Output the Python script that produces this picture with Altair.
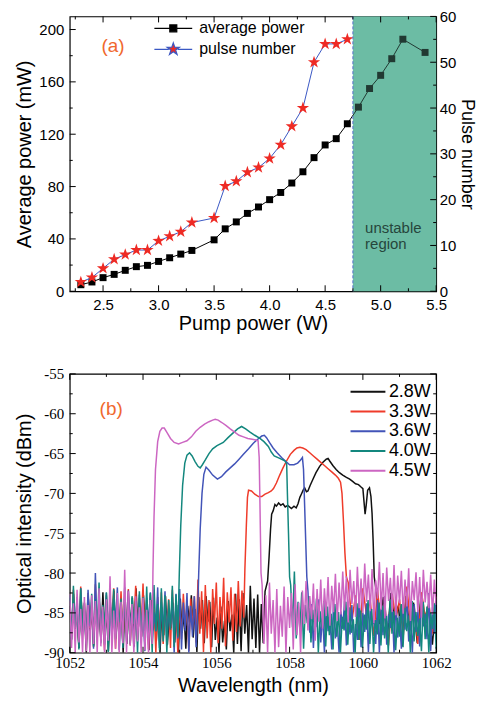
import altair as alt
import numpy as np
import pandas as pd

SANS = "Liberation Sans"
SERIF = "Liberation Serif"

# ================= Panel (a): output vs pump power =================
avg_pump = [2.3, 2.4, 2.5, 2.6, 2.7, 2.8, 2.9, 3.0, 3.1, 3.2, 3.3, 3.5, 3.6, 3.7, 3.8,
            3.9, 4.0, 4.1, 4.2, 4.3, 4.4, 4.5, 4.6, 4.7, 4.8, 4.9, 5.0, 5.1, 5.2, 5.4]
avg_power = [5.0, 7.1, 10.4, 12.9, 16.0, 18.8, 19.8, 22.8, 25.6, 28.4, 31.2, 39.3, 47.7, 53.0, 59.5,
             64.4, 70.0, 75.5, 82.7, 91.3, 102.1, 111.8, 116.6, 128.0, 140.7, 154.9, 165.0, 177.7, 192.6, 182.5]
pulse_pump = [2.3, 2.4, 2.5, 2.6, 2.7, 2.8, 2.9, 3.0, 3.1, 3.2, 3.3, 3.5,
              3.6, 3.7, 3.8, 3.9, 4.0, 4.1, 4.2, 4.3, 4.4, 4.5, 4.6, 4.7]
pulse_number = [2, 3, 5, 7, 8, 9, 9, 11, 12, 13, 15, 16,
                23, 24, 26, 27, 29, 32, 36, 40, 50, 54, 54, 55]
a_names = ["average power", "pulse number"]
xa_major = [2.5, 3.0, 3.5, 4.0, 4.5, 5.0, 5.5]
xa_minor = [2.25, 2.75, 3.25, 3.75, 4.25, 4.75, 5.25]
yl_major = [0, 40, 80, 120, 160, 200]
yl_minor = [20, 60, 100, 140, 180]
yr_major = [0, 10, 20, 30, 40, 50, 60]
yr_minor = [5, 15, 25, 35, 45, 55]
unstable_from, unstable_to = 4.75, 5.5
label_a_pos = [2.59, 187.5]
region_text = ["unstable", "region"]
region_text_x = [4.86, 4.86]
region_text_y = [48.7, 35.8]

# ================= Panel (b): optical spectra =================
series_names = ["2.8W", "3.3W", "3.6W", "4.0W", "4.5W"]
series_colors = ["#111111", "#ef3b2a", "#4254b8", "#13877e", "#cc66c2"]

# 2.8 W
bk_noise_a = [-84.1, -88.3, -82.6, -87.0, -85.2, -89.4, -83.0, -86.5, -84.7, -90.0,
              -82.9, -87.7, -84.4, -89.1, -83.3, -86.0, -85.5, -88.6, -82.4, -87.9,
              -84.8, -89.8, -83.6, -86.8, -82.2, -88.2, -85.0, -87.1, -83.9, -90.0,
              -82.7, -88.9, -84.2, -86.3, -83.1, -89.2, -81.9, -87.4, -84.6, -88.0,
              -82.8, -86.6, -84.9, -89.7, -83.4, -87.2, -85.1, -88.5, -83.8, -90.0,
              -84.3, -87.8, -82.9, -89.0, -85.4, -86.9, -83.7, -88.7, -84.0, -90.0,
              -83.2, -87.5, -85.0, -89.5, -84.1, -86.2, -82.8, -88.1, -84.5, -89.9,
              -83.0, -87.0, -83.4, -88.8, -82.9, -86.1, -83.6, -89.3, -83.1, -88.4,
              -85.6, -90.0, -84.2, -88.7, -86.0, -89.6, -83.5, -87.3, -85.2, -90.0,
              -82.6, -88.9, -83.3, -89.8, -82.5, -87.6, -84.0, -90.0, -81.6, -88.3,
              -83.2, -89.4, -82.7, -90.0, -83.9, -88.8, -82.3]
bk_noise_a_range = [1052.0, 1057.33]
bk_band = [[1057.40, -81.0], [1057.44, -78.0], [1057.48, -74.5], [1057.51, -72.6], [1057.55, -72.2],
           [1057.60, -71.4], [1057.64, -71.6], [1057.70, -71.2], [1057.76, -71.5], [1057.82, -71.3],
           [1057.88, -71.7], [1057.95, -71.5], [1058.05, -71.9], [1058.12, -71.6], [1058.18, -71.8],
           [1058.23, -71.3], [1058.28, -70.5], [1058.32, -70.1], [1058.37, -69.6], [1058.41, -69.3],
           [1058.46, -69.8], [1058.50, -69.7], [1058.56, -69.0], [1058.64, -68.2], [1058.72, -67.4],
           [1058.82, -66.6], [1058.91, -66.1], [1059.00, -65.7], [1059.05, -65.6], [1059.09, -65.9],
           [1059.18, -66.5], [1059.27, -67.0], [1059.36, -67.4], [1059.45, -67.7], [1059.55, -68.0],
           [1059.64, -68.2], [1059.72, -68.5], [1059.80, -68.8], [1059.88, -68.9], [1059.95, -69.2],
           [1060.00, -69.4], [1060.03, -71.0], [1060.06, -72.6], [1060.09, -71.5], [1060.13, -69.6],
           [1060.18, -69.3], [1060.22, -70.4], [1060.25, -72.5], [1060.28, -76.0], [1060.31, -80.5]]
bk_noise_b = [-81.8, -86.4, -83.0, -88.5, -82.5, -85.9, -84.1, -89.2, -82.9, -87.0,
              -83.7, -88.8, -82.6, -86.3, -84.4, -89.0, -83.3]
bk_noise_b_range = [1060.35, 1062.0]

# 3.3 W
rd_noise_a = [-83.5, -87.9, -82.1, -86.4, -84.6, -89.0, -81.7, -87.3, -83.8, -88.6,
              -82.5, -86.9, -84.0, -89.3, -81.4, -87.8, -83.2, -86.1, -84.9, -89.7,
              -82.8, -88.1, -83.9, -86.7, -81.9, -89.5, -84.3, -87.2, -82.3, -88.8,
              -83.6, -87.5, -82.0, -89.1, -84.7, -86.3, -81.6, -88.4, -83.1, -87.0,
              -81.3, -88.2, -83.4, -89.6, -82.7, -86.8, -84.2, -90.0, -83.0, -87.7,
              -82.4, -88.9, -84.5, -86.6, -83.3, -89.4, -82.1, -87.4, -84.8, -90.0,
              -83.7, -88.3, -82.6, -86.9, -84.0, -89.8, -83.2, -87.1, -82.9, -88.7,
              -80.8, -87.6, -82.3, -89.9, -81.5, -88.2, -83.4, -90.0, -82.0, -86.4,
              -81.2, -88.8, -83.0, -87.0, -80.6, -89.2, -82.4, -86.2, -81.8, -88.5,
              -82.6, -87.4, -81.0, -86.7, -82.2, -85.6]
rd_noise_a_range = [1052.0, 1056.75]
rd_band = [[1056.78, -79.5], [1056.82, -74.0], [1056.85, -70.5], [1056.88, -69.6], [1056.96, -69.7],
           [1057.05, -70.1], [1057.15, -70.4], [1057.24, -70.4], [1057.33, -70.1], [1057.42, -69.9],
           [1057.50, -69.7], [1057.56, -69.4], [1057.64, -68.7], [1057.73, -67.7], [1057.82, -66.8],
           [1057.92, -65.9], [1058.02, -65.1], [1058.12, -64.6], [1058.20, -64.3], [1058.28, -64.2],
           [1058.36, -64.3], [1058.45, -64.5], [1058.55, -64.9], [1058.65, -65.3], [1058.75, -65.7],
           [1058.85, -66.1], [1058.95, -66.5], [1059.05, -66.9], [1059.15, -67.3], [1059.25, -67.7],
           [1059.33, -68.1], [1059.39, -68.6], [1059.43, -70.0], [1059.47, -73.5], [1059.51, -77.5],
           [1059.55, -80.5]]
rd_noise_b = [-81.2, -86.0, -82.8, -88.4, -81.9, -85.3, -83.5, -87.9, -82.1, -86.7,
              -84.0, -89.1, -82.6, -85.8, -83.3, -88.0, -81.7, -86.5, -84.2, -88.9,
              -82.4, -85.5, -83.8, -87.6, -82.9]
rd_noise_b_range = [1059.6, 1062.0]

# 3.6 W
bl_noise_a = [-82.8, -88.0, -84.3, -86.6, -83.0, -89.2, -81.9, -87.4, -84.8, -88.9,
              -82.1, -86.7, -83.6, -89.5, -80.0, -87.8, -83.4, -86.0, -84.6, -89.0,
              -82.5, -87.6, -84.1, -88.3, -83.2, -86.4, -81.8, -89.7, -84.4, -87.1,
              -83.0, -88.6, -82.2, -86.9, -84.7, -89.3, -83.5, -87.0, -82.7, -88.1,
              -84.2, -89.8, -83.1, -86.5, -82.4, -88.7, -84.9, -87.3, -81.8, -89.4,
              -83.6, -87.9, -82.3, -89.1, -84.5, -86.8, -83.0, -90.0, -82.6, -88.2,
              -82.0, -89.6, -83.7, -87.2, -82.5, -90.0, -84.1, -88.0, -82.9, -89.3, -83.4]
bl_noise_a_range = [1052.0, 1055.5]
bl_band = [[1055.52, -80.0], [1055.56, -74.5], [1055.61, -70.0], [1055.66, -67.6], [1055.72, -66.7],
           [1055.80, -67.1], [1055.90, -67.7], [1056.03, -68.2], [1056.14, -67.9], [1056.26, -67.3],
           [1056.38, -66.8], [1056.50, -66.3], [1056.62, -65.7], [1056.74, -65.1], [1056.88, -64.4],
           [1057.01, -63.7], [1057.13, -63.2], [1057.24, -62.8], [1057.31, -62.7], [1057.37, -63.0],
           [1057.45, -63.6], [1057.55, -64.3], [1057.66, -64.9], [1057.78, -65.5], [1057.90, -66.0],
           [1058.00, -66.4], [1058.12, -66.4], [1058.22, -66.2], [1058.30, -65.8], [1058.35, -65.5],
           [1058.38, -67.0], [1058.41, -71.5], [1058.44, -76.0], [1058.47, -80.5]]
bl_noise_b = [-82.2, -87.5, -83.9, -89.4, -84.6, -86.8, -83.3, -88.7, -85.0, -90.0,
              -84.2, -87.3, -85.6, -89.6, -83.7, -88.2, -86.1, -90.0, -84.8, -87.0,
              -83.5, -89.1, -85.3, -87.7, -84.0, -90.0, -86.4, -88.4, -83.1, -89.3,
              -85.0, -87.4, -83.8, -89.9, -84.7, -86.5, -85.9, -88.9, -83.4, -90.0,
              -84.5, -87.8, -82.9, -89.0, -85.2, -86.9, -84.1, -90.0, -83.6, -88.1,
              -85.4, -89.5, -84.0, -87.1, -82.7, -88.6, -85.7, -90.0, -83.9, -87.4,
              -84.6, -89.2, -83.2, -86.7, -85.1, -88.3, -82.5, -89.8, -84.3, -87.6, -83.0]
bl_noise_b_range = [1058.5, 1062.0]

# 4.0 W
tl_noise_a = [-83.1, -88.4, -81.6, -86.9, -84.4, -89.6, -81.9, -87.2, -83.7, -88.0,
              -84.9, -86.3, -82.6, -89.2, -83.3, -87.6, -81.2, -88.8, -84.0, -86.6,
              -82.4, -89.9, -83.8, -87.0, -82.0, -88.3, -84.6, -86.2, -83.2, -89.4,
              -81.8, -87.5, -84.2, -88.9, -82.9, -86.4, -83.5, -90.0, -82.3, -87.8,
              -83.0, -89.1, -81.7, -88.2, -82.5, -90.0, -81.5, -87.3, -83.9, -89.7,
              -81.9, -88.6, -82.8, -90.0, -83.4, -87.1, -81.6, -89.3, -82.7, -88.0]
tl_noise_a_range = [1052.0, 1054.95]
tl_band = [[1054.99, -80.0], [1055.03, -74.0], [1055.08, -69.0], [1055.14, -66.2], [1055.20, -65.2],
           [1055.27, -64.9], [1055.34, -65.3], [1055.42, -66.0], [1055.50, -66.6], [1055.56, -66.8],
           [1055.62, -66.4], [1055.70, -65.8], [1055.80, -65.0], [1055.90, -64.4], [1056.02, -64.0],
           [1056.19, -63.6], [1056.32, -63.0], [1056.46, -62.4], [1056.58, -61.9], [1056.69, -61.6],
           [1056.80, -61.9], [1056.92, -62.3], [1057.05, -62.7], [1057.19, -63.1], [1057.30, -63.5],
           [1057.42, -64.1], [1057.50, -64.8], [1057.58, -65.3], [1057.73, -65.6], [1057.87, -65.9],
           [1057.92, -66.3], [1057.94, -70.0], [1057.97, -75.0], [1058.00, -80.5]]
tl_noise_b = [-81.5, -86.8, -79.8, -88.2, -83.6, -87.1, -82.4, -89.5, -84.0, -86.3,
              -82.9, -88.7, -84.6, -87.4, -83.2, -90.0, -84.8, -86.9, -83.5, -89.2,
              -84.2, -87.8, -85.1, -89.6, -83.9, -88.0, -84.9, -90.0, -85.5, -87.2,
              -83.6, -89.0, -84.3, -87.5, -85.8, -90.0, -83.8, -88.4, -84.7, -89.4,
              -85.2, -87.1, -83.4, -88.9, -84.5, -90.0, -85.9, -87.7, -83.7, -89.1,
              -84.1, -88.2, -85.4, -90.0, -83.3, -87.6, -84.8, -89.7, -85.6, -88.0,
              -83.9, -89.3, -84.4, -87.3, -85.3, -90.0, -83.5, -88.6, -84.9, -87.9,
              -85.7, -89.8, -83.6, -88.3, -84.2, -90.0, -85.0, -87.0, -83.8, -89.5]
tl_noise_b_range = [1058.03, 1062.0]

# 4.5 W
pk_noise_a = [-82.6, -89.4, -83.8, -90.0, -82.1, -88.7, -84.5, -90.0, -83.0, -89.8,
              -84.0, -90.0, -82.8, -88.9, -83.5, -90.0, -81.9, -89.2, -84.2, -90.0,
              -83.3, -88.5, -80.4, -90.0, -84.7, -89.5, -82.5, -90.0, -83.6, -88.8,
              -79.6, -90.0, -82.3, -89.1, -83.9, -90.0, -82.9, -88.6, -84.3, -90.0,
              -83.1, -89.7, -84.6, -90.0, -83.4, -88.9]
pk_noise_a_range = [1052.0, 1054.25]
pk_band = [[1054.27, -80.0], [1054.30, -73.0], [1054.34, -67.0], [1054.40, -63.5], [1054.46, -62.2],
           [1054.52, -61.8], [1054.58, -61.8], [1054.66, -62.4], [1054.75, -63.1], [1054.85, -63.6],
           [1054.97, -63.8], [1055.08, -63.6], [1055.20, -63.4], [1055.32, -62.9], [1055.44, -62.2],
           [1055.56, -61.7], [1055.68, -61.3], [1055.80, -61.0], [1055.90, -60.8], [1055.97, -60.7],
           [1056.05, -60.8], [1056.15, -61.1], [1056.27, -61.5], [1056.38, -61.9], [1056.50, -62.3],
           [1056.62, -62.7], [1056.74, -62.9], [1056.86, -63.1], [1056.98, -63.2], [1057.08, -63.3],
           [1057.14, -63.4], [1057.17, -65.5], [1057.19, -71.0], [1057.22, -80.0]]
pk_noise_b = [-81.5, -88.9, -82.8, -90.0, -81.2,
              -87.6, -83.4, -90.0, -82.0, -89.3, -84.1, -88.0, -81.7, -90.0, -83.0,
              -86.9, -82.5, -89.6, -81.4, -87.8, -83.7, -90.0, -82.2, -86.4, -81.0,
              -87.2, -82.9, -85.8, -81.3, -88.5, -82.0, -86.1, -80.8, -87.0, -81.9,
              -85.4, -80.5, -86.6, -81.6, -84.9, -80.1, -86.0, -81.2, -85.2, -79.8,
              -84.7, -80.4, -86.2, -79.6, -83.9, -81.0, -85.5, -79.2, -84.4, -80.7,
              -85.0, -78.8, -83.6, -80.2, -84.8, -79.5, -86.3, -80.9, -83.2, -78.6,
              -84.6, -80.0, -85.7, -79.3, -83.5, -80.6, -84.9, -79.0, -85.3, -80.3,
              -83.8, -79.7, -85.1, -80.8, -84.2, -79.4, -86.0, -81.0, -83.4, -79.9,
              -84.9, -80.5, -85.6, -79.6, -83.7, -81.1, -84.4, -80.2, -85.2, -80.8, -84.0]
pk_noise_b_range = [1057.25, 1062.0]

xb_major = [1052, 1054, 1056, 1058, 1060, 1062]
xb_minor = [1053, 1055, 1057, 1059, 1061]
yb_major = [-90, -85, -80, -75, -70, -65, -60, -55]
yb_minor = [-87.5, -82.5, -77.5, -72.5, -67.5, -62.5, -57.5]
label_b_pos = [1053.13, -59.4]

# ================= styling =================
W, HA, HB = 368, 276, 280
ORANGE = "#f0682e"
BLUE = "#3a58c4"
RED = "#ee2a24"
REGION = "#6cbca4"
STAR = ("M0,-1.3L0.294,-0.405L1.236,-0.402L0.476,0.155L0.764,1.052L0,0.5"
        "L-0.764,1.052L-0.476,0.155L-1.236,-0.402L-0.294,-0.405Z")
SQUARE = "M-0.7,-0.7H0.7V0.7H-0.7Z"
LEG_SQUARE = "M-3.8,0H-0.7M0.7,0H3.8" + SQUARE
LEG_STAR = "M-3.8,0H-0.9M0.9,0H3.8" + STAR
LINE_B = "M-3.5,0H3.5"
MAJ, MIN = 6, 3

base_axis = dict(domain=False, grid=False, ticks=False, labelColor="black", titleColor="black",
                 titleFont=SANS, titleFontWeight="normal", labelOverlap=False, labelFlush=False)


def vticks(values, scale, height, length):
    """Inward tick marks on the bottom and top frame edges."""
    df = pd.DataFrame({"v": values})
    bottom = alt.Chart(df).mark_rule(color="black", strokeWidth=1).encode(
        x=alt.X("v:Q", scale=scale, axis=None), y=alt.value(height), y2=alt.value(height - length))
    top = alt.Chart(df).mark_rule(color="black", strokeWidth=1).encode(
        x=alt.X("v:Q", scale=scale, axis=None), y=alt.value(0), y2=alt.value(length))
    return [bottom, top]


def hticks(values, scale, x_edge, length):
    """Inward tick marks on a left (x_edge=0) or right (x_edge=W) frame edge."""
    df = pd.DataFrame({"v": values})
    x2 = x_edge + length if x_edge == 0 else x_edge - length
    return [alt.Chart(df).mark_rule(color="black", strokeWidth=1).encode(
        y=alt.Y("v:Q", scale=scale, axis=None), x=alt.value(x_edge), x2=alt.value(x2))]


# ---------------- panel (a) ----------------
xa = alt.Scale(domain=[2.2, 5.5], nice=False, zero=False)
ya_l = alt.Scale(domain=[0, 210], nice=False, zero=False)
ya_r = alt.Scale(domain=[0, 60], nice=False, zero=False)

xa_axis = alt.Axis(orient="bottom", values=xa_major, format=".1f", title="Pump power (W)",
                   labelPadding=6, labelFont=SANS, labelFontSize=15,
                   titleFontSize=20, titlePadding=1, **base_axis)
yl_axis = alt.Axis(orient="left", values=yl_major, format="d", title="Average power (mW)",
                   labelPadding=6, labelFont=SANS, labelFontSize=15, minExtent=31,
                   titleFontSize=20, titlePadding=4, **base_axis)
yr_axis = alt.Axis(orient="right", values=yr_major, format="d", title="Pulse number",
                   labelPadding=3, labelFont=SANS, labelFontSize=15,
                   titleFontSize=18, titlePadding=2, **base_axis)

avg_df = pd.DataFrame({"pump": avg_pump, "power": avg_power})
pulse_df = pd.DataFrame({"pump": pulse_pump, "pulses": pulse_number})
region_df = pd.DataFrame({"x0": [unstable_from], "x1": [unstable_to]})

region = alt.Chart(region_df).mark_rect(color=REGION).encode(
    x=alt.X("x0:Q", scale=xa, axis=None), x2="x1:Q", y=alt.value(0), y2=alt.value(HA))
tint = alt.Chart(region_df).mark_rect(color=REGION, opacity=0.3).encode(
    x=alt.X("x0:Q", scale=xa, axis=None), x2="x1:Q", y=alt.value(0), y2=alt.value(HA))
edge = alt.Chart(region_df).mark_rule(color="#5a6fd0", strokeDash=[3, 2], strokeWidth=1).encode(
    x=alt.X("x0:Q", scale=xa, axis=None), y=alt.value(0), y2=alt.value(HA))

avg_line = alt.Chart(avg_df).mark_line(color="black", strokeWidth=1).encode(
    x=alt.X("pump:Q", scale=xa, axis=xa_axis),
    y=alt.Y("power:Q", scale=ya_l, axis=yl_axis))
avg_pts = alt.Chart(avg_df).mark_point(shape=SQUARE, filled=True, size=100, color="black", opacity=1).encode(
    x=alt.X("pump:Q", scale=xa, axis=None), y=alt.Y("power:Q", scale=ya_l, axis=None))
pulse_line = alt.Chart(pulse_df).mark_line(color=BLUE, strokeWidth=1).encode(
    x=alt.X("pump:Q", scale=xa, axis=None),
    y=alt.Y("pulses:Q", scale=ya_r, axis=yr_axis))
pulse_pts = alt.Chart(pulse_df).mark_point(shape=STAR, filled=True, size=100, color=RED, opacity=1).encode(
    x=alt.X("pump:Q", scale=xa, axis=None), y=alt.Y("pulses:Q", scale=ya_r, axis=None))

label_a = alt.Chart(pd.DataFrame({"x": [label_a_pos[0]], "y": [label_a_pos[1]], "t": ["(a)"]})).mark_text(
    font=SANS, fontSize=19, color=ORANGE).encode(
    x=alt.X("x:Q", scale=xa, axis=None), y=alt.Y("y:Q", scale=ya_l, axis=None), text="t:N")
region_lbl = alt.Chart(pd.DataFrame({"x": region_text_x, "y": region_text_y, "t": region_text})).mark_text(
    font=SANS, fontSize=15, color="#26463c", align="left").encode(
    x=alt.X("x:Q", scale=xa, axis=None), y=alt.Y("y:Q", scale=ya_l, axis=None), text="t:N")

leg_df = pd.DataFrame({"series": a_names, "x": [3.0, 3.0], "y": [10, 10]})
leg_a = alt.Legend(orient="none", legendX=96, legendY=4, title=None, symbolSize=100,
                   symbolStrokeWidth=1.2, labelFontSize=16, labelFont=SANS, labelColor="black",
                   labelOffset=18, rowPadding=4, padding=0)
leg_layer = alt.Chart(leg_df).transform_filter("false").mark_point(filled=True, opacity=1).encode(
    x=alt.X("x:Q", scale=xa, axis=None), y=alt.Y("y:Q", scale=ya_l, axis=None),
    stroke=alt.Stroke("series:N", scale=alt.Scale(domain=a_names, range=["black", BLUE]), legend=leg_a),
    fill=alt.Fill("series:N", scale=alt.Scale(domain=a_names, range=["black", RED]), legend=leg_a),
    shape=alt.Shape("series:N", scale=alt.Scale(domain=a_names, range=[LEG_SQUARE, LEG_STAR]), legend=leg_a))

ticks_a = (vticks(xa_major, xa, HA, MAJ) + vticks(xa_minor, xa, HA, MIN)
           + hticks(yl_major, ya_l, 0, MAJ) + hticks(yl_minor, ya_l, 0, MIN)
           + hticks(yr_major, ya_r, W, MAJ) + hticks(yr_minor, ya_r, W, MIN))

panel_a = alt.layer(region, avg_line, avg_pts, pulse_line, pulse_pts, tint, edge, label_a,
                    region_lbl, leg_layer, *ticks_a).resolve_scale(
    y="independent").resolve_axis(x="independent", y="independent").properties(width=W, height=HA)

# ---------------- panel (b) ----------------
xb = alt.Scale(domain=[1052, 1062], nice=False, zero=False)
yb = alt.Scale(domain=[-90, -55], nice=False, zero=False)
xb_axis = alt.Axis(orient="bottom", values=xb_major, labelExpr="'' + datum.value", title="Wavelength (nm)",
                   labelPadding=3, labelFont=SERIF, labelFontSize=15,
                   titleFontSize=20, titlePadding=5, **base_axis)
yb_axis = alt.Axis(orient="left", values=yb_major, labelExpr="'' + datum.value", title="Optical intensity (dBm)",
                   labelPadding=6, labelFont=SERIF, labelFontSize=15, minExtent=31,
                   titleFontSize=20, titlePadding=4, **base_axis)

color_b = alt.Scale(domain=series_names, range=series_colors)
legend_b = alt.Legend(orient="none", legendX=290.5, legendY=9, title=None, symbolType=LINE_B,
                      symbolSize=100, symbolStrokeWidth=2, labelFontSize=18, labelFont=SANS,
                      labelColor="black", labelOffset=12, rowPadding=1.8, padding=0)

spectra = [
    ("2.8W", bk_noise_a, bk_noise_a_range, bk_band, bk_noise_b, bk_noise_b_range),
    ("3.3W", rd_noise_a, rd_noise_a_range, rd_band, rd_noise_b, rd_noise_b_range),
    ("3.6W", bl_noise_a, bl_noise_a_range, bl_band, bl_noise_b, bl_noise_b_range),
    ("4.0W", tl_noise_a, tl_noise_a_range, tl_band, tl_noise_b, tl_noise_b_range),
    ("4.5W", pk_noise_a, pk_noise_a_range, pk_band, pk_noise_b, pk_noise_b_range),
]

spec_layers = []
for k, (name, na, ra, band, nb, rb) in enumerate(spectra):
    wl = list(np.linspace(ra[0], ra[1], len(na))) + [p[0] for p in band] + list(np.linspace(rb[0], rb[1], len(nb)))
    db = list(na) + [p[1] for p in band] + list(nb)
    df = pd.DataFrame({"wl": wl, "db": db, "series": name, "i": list(range(len(wl)))})
    spec_layers.append(
        alt.Chart(df).mark_line(strokeWidth=1.5, clip=True).encode(
            x=alt.X("wl:Q", scale=xb, axis=xb_axis if k == 0 else None),
            y=alt.Y("db:Q", scale=yb, axis=yb_axis if k == 0 else None),
            color=alt.Color("series:N", scale=color_b, legend=legend_b),
            order=alt.Order("i:Q"))
    )

label_b = alt.Chart(pd.DataFrame({"x": [label_b_pos[0]], "y": [label_b_pos[1]], "t": ["(b)"]})).mark_text(
    font=SANS, fontSize=19, color=ORANGE).encode(
    x=alt.X("x:Q", scale=xb, axis=None), y=alt.Y("y:Q", scale=yb, axis=None), text="t:N")

ticks_b = (vticks(xb_major, xb, HB, MAJ) + vticks(xb_minor, xb, HB, MIN)
           + hticks(yb_major, yb, 0, MAJ) + hticks(yb_minor, yb, 0, MIN)
           + hticks(yb_major, yb, W, MAJ) + hticks(yb_minor, yb, W, MIN))

panel_b = alt.layer(*spec_layers, label_b, *ticks_b).resolve_axis(
    x="independent", y="independent").properties(width=W, height=HB)

chart = alt.vconcat(panel_a, panel_b, spacing=32).resolve_scale(
    color="independent", fill="independent", stroke="independent", shape="independent"
).properties(
    padding={"left": 6, "top": -1, "right": 0, "bottom": 0}
).configure_view(stroke="black", strokeWidth=1.2)

chart.save("out.html", embed_options={"renderer": "svg", "actions": False})
